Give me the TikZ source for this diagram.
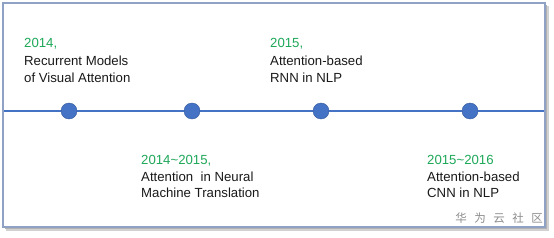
\documentclass[tikz,border=0pt]{standalone}
\usepackage{fontspec}
\setmainfont{Liberation Sans}
\newfontfamily\cjk{Noto Sans CJK SC}
\definecolor{tlblue}{HTML}{4472C4}
\definecolor{tlgreen}{HTML}{1FA85A}
\definecolor{framec}{HTML}{8FA2C6}
\definecolor{txt}{HTML}{1A1A1A}
\begin{document}
\begin{tikzpicture}[x=1pt,y=-1pt,
  lbl/.style={anchor=base west,inner sep=0pt,font=\fontsize{13.2}{15}\selectfont,text=txt},
  yr/.style={lbl,text=tlgreen},
  dot/.style={circle,fill=tlblue,draw=tlblue!80!black,line width=0.4pt,minimum size=16pt,inner sep=0pt}]
\useasboundingbox (0,0) rectangle (554,238);
% shadow
\fill[black!18] (6,6) rectangle (549,231);
\fill[black!30] (5,5) rectangle (547,229);
\filldraw[fill=white,draw=framec,line width=1.3pt] (3,3) rectangle (545,227);
% timeline
\coordinate (L) at (3.6,111);
\coordinate (R) at (544.4,111);
\draw[tlblue,line width=2pt] (L) -- (R);
\node[dot] (d1) at (69,111) {};
\node[dot] (d2) at (192,111) {};
\node[dot] (d3) at (321,111) {};
\node[dot] (d4) at (470,111) {};
% block 1
\node[yr] (y1) at (24,48) {2014,};
\node[lbl] (a1) at (24,66) {Recurrent Models};
\node[lbl] (b1) at (24,82) {of Visual Attention};
% block 2
\node[yr] (y2) at (270,48) {2015,};
\node[lbl] (a2) at (270,66) {Attention-based};
\node[lbl] (b2) at (270,82) {RNN in NLP};
% block 3
\node[yr] (y3) at (141,164) {2014\char"7E 2015,};
\node[lbl] (a3) at (141,181) {Attention\ \ in Neural};
\node[lbl] (b3) at (141,197) {Machine Translation};
% block 4
\node[yr] (y4) at (427,164) {2015\char"7E 2016};
\node[lbl] (a4) at (427,181) {Attention-based};
\node[lbl] (b4) at (427,197) {CNN in NLP};
% watermark
\node[anchor=base east,inner sep=0pt,text=black!45,font=\cjk\fontsize{11.5}{13}\selectfont] (wm) at (543,222) {华\hspace{7.5pt}为\hspace{7.5pt}云\hspace{7.5pt}社\hspace{7.5pt}区};
\end{tikzpicture}
\end{document}
